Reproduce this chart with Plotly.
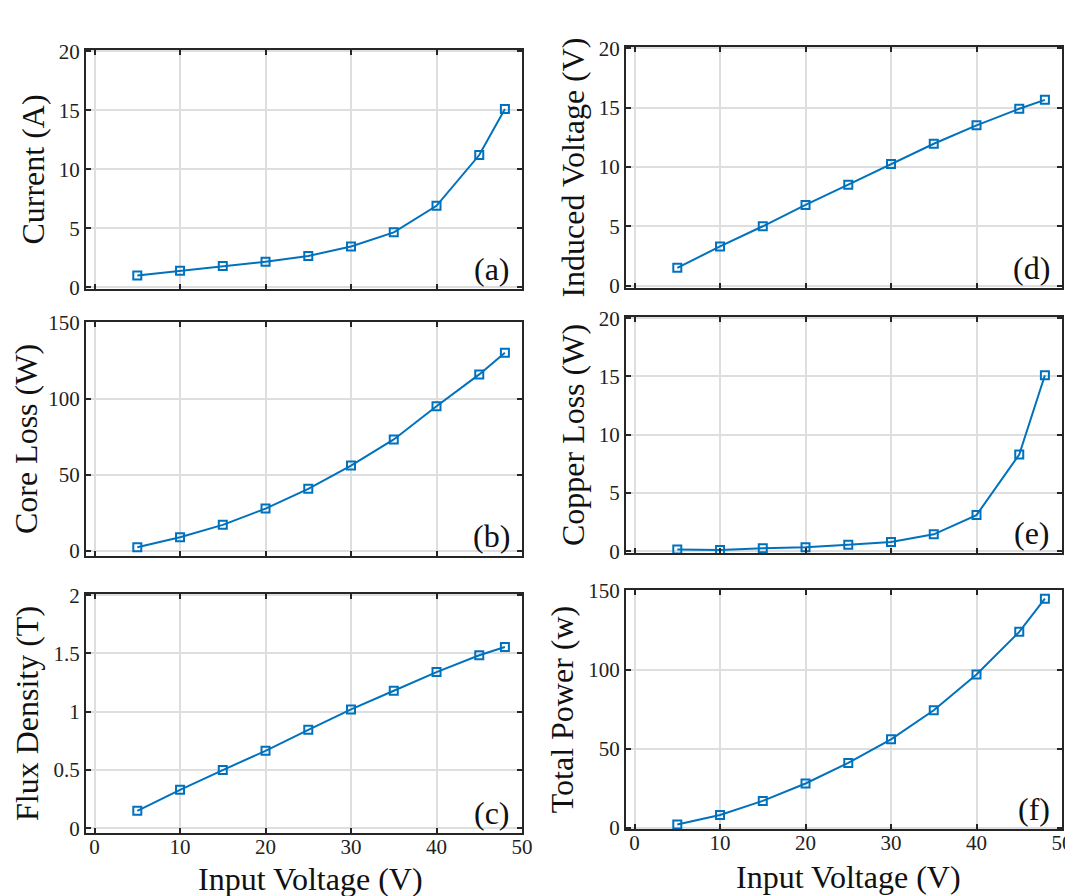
import plotly.graph_objects as go
from plotly.subplots import make_subplots

# ---- data ----
input_voltage = [5, 10, 15, 20, 25, 30, 35, 40, 45, 48]
current_a = [1.0, 1.4, 1.8, 2.15, 2.65, 3.45, 4.65, 6.9, 11.2, 15.1]
core_loss_w = [2.2, 8.8, 17.0, 27.7, 40.7, 56.0, 73.2, 95.0, 116.0, 130.3]
flux_density_t = [0.15, 0.33, 0.5, 0.665, 0.845, 1.02, 1.18, 1.34, 1.485, 1.555]
induced_voltage_v = [1.5, 3.3, 5.0, 6.8, 8.5, 10.25, 11.95, 13.5, 14.9, 15.65]
copper_loss_w = [0.15, 0.1, 0.25, 0.35, 0.55, 0.8, 1.45, 3.1, 8.3, 15.1]
total_power_w = [2.1, 8.1, 17.0, 28.0, 41.0, 56.0, 74.4, 97.0, 124.0, 145.0]

x_ticks = [0, 10, 20, 30, 40, 50]
x_title = "Input Voltage (V)"

panels = [
    # (row, col, values, y title, y ticks, y range, label)
    (1, 1, current_a, "Current (A)", [0, 5, 10, 15, 20], [-0.15, 20.1], "(a)"),
    (2, 1, core_loss_w, "Core Loss (W)", [0, 50, 100, 150], [-3.5, 150.5], "(b)"),
    (3, 1, flux_density_t, "Flux Density (T)", [0, 0.5, 1, 1.5, 2], [-0.04, 2.01], "(c)"),
    (1, 2, induced_voltage_v, "Induced Voltage (V)", [0, 5, 10, 15, 20], [-0.2, 20.1], "(d)"),
    (2, 2, copper_loss_w, "Copper Loss (W)", [0, 5, 10, 15, 20], [-0.15, 20.1], "(e)"),
    (3, 2, total_power_w, "Total Power (w)", [0, 50, 100, 150], [-0.8, 150.5], "(f)"),
]

OFF = 8  # page body margin offset
W, H = 1073 - OFF, 896 - OFF
col_px = {1: (86, 522), 2: (626, 1062)}
row_px = {
    (1, 1): (50, 289), (2, 1): (322, 556), (3, 1): (594, 833),
    (1, 2): (47, 288), (2, 2): (317, 553), (3, 2): (590, 829),
}
xtitle_center = {1: (310, 879), 2: (848, 877)}

FONT = "Liberation Serif, Times New Roman, serif"
BLUE = "#0072BD"
GRID = "#dedede"
AX = "#262626"

fig = make_subplots(rows=3, cols=2)

for (r, c, vals, ytitle, yticks, yrange, lab) in panels:
    idx = (r - 1) * 2 + c
    fig.add_trace(
        go.Scatter(
            x=input_voltage, y=vals, mode="lines+markers",
            line=dict(color=BLUE, width=2),
            marker=dict(symbol="square-open", size=8, color=BLUE, line=dict(width=2)),
            showlegend=False,
        ),
        row=r, col=c,
    )
    x0, x1 = col_px[c]
    y0, y1 = row_px[(r, c)]
    x0, x1, y0, y1 = x0 - OFF, x1 - OFF, y0 - OFF, y1 - OFF
    bottom = (r == 3)
    fig.update_xaxes(
        domain=[x0 / W, x1 / W], range=[-1, 50], automargin=False,
        tickvals=x_ticks, showticklabels=bottom, ticklabelstandoff=-6,
        showgrid=True, gridcolor=GRID, gridwidth=2,
        showline=True, linecolor=AX, linewidth=2, mirror="ticks",
        ticks="inside", ticklen=5, tickwidth=2, tickcolor=AX,
        tickfont=dict(size=21, family=FONT, color="#222"),
        zeroline=False, fixedrange=True,
        row=r, col=c,
    )
    fig.update_yaxes(
        domain=[1 - y1 / H, 1 - y0 / H], range=yrange, automargin=False,
        tickvals=yticks,
        title=dict(text=ytitle, font=dict(size=32, family=FONT, color="#111"), standoff=5),
        showgrid=True, gridcolor=GRID, gridwidth=2,
        showline=True, linecolor=AX, linewidth=2, mirror="ticks",
        ticks="inside", ticklen=5, tickwidth=2, tickcolor=AX,
        tickfont=dict(size=21, family=FONT, color="#222"),
        zeroline=False, fixedrange=True,
        row=r, col=c,
    )
    xref = "x domain" if idx == 1 else f"x{idx} domain"
    yref = "y domain" if idx == 1 else f"y{idx} domain"
    fig.add_annotation(
        x=0.978, y=0.0, xref=xref, yref=yref, xanchor="right", yanchor="bottom",
        text=lab, showarrow=False, font=dict(size=32, family=FONT, color="#111"),
    )
    if bottom:
        cx, cy = xtitle_center[c]
        fig.add_annotation(
            x=(cx - OFF) / W, y=1 - (cy - OFF) / H, xref="paper", yref="paper",
            xanchor="center", yanchor="middle", text=x_title, showarrow=False,
            font=dict(size=32, family=FONT, color="#111"),
        )

fig.update_layout(
    width=W, height=H,
    margin=dict(l=0, r=0, t=0, b=0),
    paper_bgcolor="white", plot_bgcolor="white",
    font=dict(family=FONT),
)

fig.write_html("out.html")
